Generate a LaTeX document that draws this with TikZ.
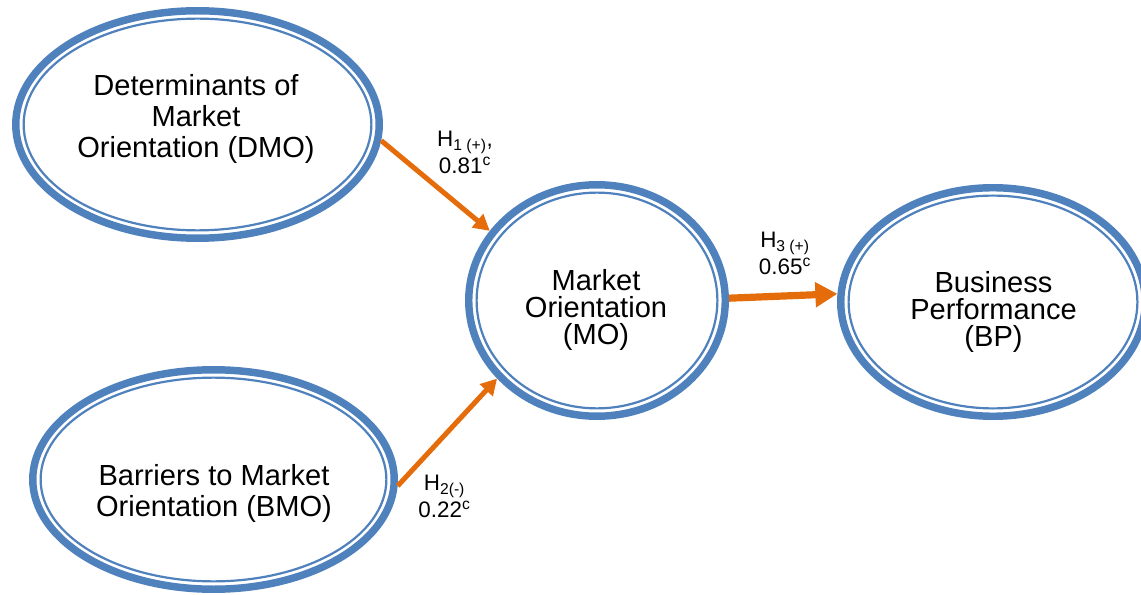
\documentclass[tikz,border=0pt]{standalone}
\usepackage{fontspec}
\setmainfont{Liberation Sans}
\usetikzlibrary{shapes.geometric,arrows.meta,calc}

\definecolor{ringblue}{RGB}{79,129,189}
\definecolor{pathorange}{RGB}{228,108,10}

\tikzset{
  construct/.style={ellipse, draw=ringblue, line width=5.6pt, fill=white, inner sep=0pt,
    path picture={\draw[ringblue, line width=1.65pt]
      let \p1=(path picture bounding box.north east), \p2=(path picture bounding box.center)
      in (\p2) ellipse [x radius={\x1-\x2-5.9pt}, y radius={\y1-\y2-5.9pt}];}},
  cname/.style={align=center, inner sep=0pt, font=\fontsize{21.8pt}{23.25pt}\selectfont},
  tightcname/.style={cname, font=\fontsize{21.8pt}{20.3pt}\selectfont},
  coef/.style={align=center, inner sep=0pt, anchor=north, font=\fontsize{16.8pt}{20.25pt}\selectfont},
  hyp/.style={draw=pathorange, line width=3.75pt, -{Triangle[length=12pt,width=12.75pt]}}
}

\begin{document}
\begin{tikzpicture}[x=0.75pt,y=-0.75pt]
  \useasboundingbox (0,0) rectangle (1141,595);
  \clip (0,0) rectangle (1141,595);

  % Constructs
  \node[construct, minimum width=272.6pt, minimum height=170.6pt] (dmo) at (197.5,124.5) {};
  \node[construct, minimum width=271.1pt, minimum height=164.6pt] (bmo) at (213.5,479.5) {};
  \node[construct, minimum width=192.4pt, minimum height=173.6pt] (mo) at (597,300.5) {};
  \node[construct, minimum width=228.4pt, minimum height=171.4pt] (bp) at (993,302) {};

  % Construct names
  \node[cname] (dmo-text) at (196,119) {Determinants of\\Market\\Orientation (DMO)};
  \node[cname] (bmo-text) at (214,493) {Barriers to Market\\Orientation (BMO)};
  \node[tightcname] (mo-text) at (596,310) {Market\\Orientation\\(MO)};
  \node[tightcname] (bp-text) at (993.5,312) {Business\\Performance\\(BP)};

  % Hypothesised paths
  \draw[hyp] (dmo.-5) -- (mo.147);
  \draw[hyp] (bmo.-2) -- (mo.218);
  \draw[hyp, line width=5.4pt, -{Triangle[length=16.5pt,width=18pt]}] (mo.1) -- (bp.177);

  % Path coefficients
  \node[coef] (h1) at (465,131) {H\textsubscript{1 (+)},\\0.81\textsuperscript{c}};
  \node[coef] (h2) at (444.5,475) {H\textsubscript{2(-)}\\0.22\textsuperscript{c}};
  \node[coef] (h3) at (785,232) {H\textsubscript{3 (+)}\\0.65\textsuperscript{c}};

\end{tikzpicture}
\end{document}
